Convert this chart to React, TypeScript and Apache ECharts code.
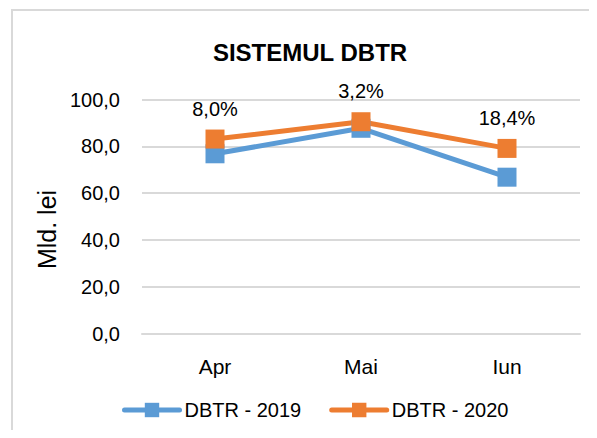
import React, { useEffect, useRef } from "react";
import * as echarts from "echarts";

const categories = ["Apr", "Mai", "Iun"];
const dbtr2019 = [76.8, 87.7, 66.8];
const dbtr2020 = [83.1, 90.5, 79.1];
const growthLabels = ["8,0%", "3,2%", "18,4%"];
const yTicks = { min: 0, max: 100, interval: 20 };

const FONT = "'Liberation Sans', Arial, sans-serif";

export default function App() {
  const ref = useRef<HTMLDivElement>(null);
  useEffect(() => {
    const chart = echarts.init(ref.current!, null, { renderer: "svg" });
    chart.setOption({
      animation: false,
      backgroundColor: "#ffffff",
      textStyle: { fontFamily: FONT },
      graphic: [
        {
          type: "rect",
          shape: { x: 12, y: 10, width: 700, height: 600 },
          style: { fill: "none", stroke: "#d9d9d9", lineWidth: 2 },
          silent: true,
        },
      ],
      title: {
        text: "SISTEMUL DBTR",
        left: 305,
        textAlign: "center",
        top: 35,
        textStyle: { fontSize: 24, fontWeight: "bold", color: "#000", fontFamily: FONT },
      },
      legend: {
        left: 117,
        top: 395,
        itemWidth: 55,
        itemHeight: 18,
        itemGap: 28,
        lineStyle: { width: 5, cap: "round" },
        textStyle: { fontSize: 20, color: "#000", fontFamily: FONT },
        data: ["DBTR - 2019", "DBTR - 2020"],
      },
      grid: { left: 142, right: 17, top: 99.5, bottom: 104.5, containLabel: false },
      xAxis: {
        type: "category",
        data: categories,
        boundaryGap: true,
        axisLine: { show: true, lineStyle: { color: "#d9d9d9", width: 2 } },
        axisTick: { show: false },
        axisLabel: { fontSize: 21, color: "#000", margin: 22, fontFamily: FONT },
      },
      yAxis: {
        type: "value",
        min: yTicks.min,
        max: yTicks.max,
        interval: yTicks.interval,
        name: "Mld. lei",
        nameLocation: "middle",
        nameGap: 82,
        nameRotate: 90,
        nameTextStyle: { fontSize: 25, color: "#000", fontFamily: FONT, padding: [0, 26, 0, 0] },
        axisLine: { show: false },
        axisTick: { show: false },
        splitLine: { lineStyle: { color: "#d9d9d9", width: 2 } },
        axisLabel: {
          fontSize: 20,
          color: "#000",
          margin: 22,
          fontFamily: FONT,
          formatter: (v: number) => v.toFixed(1).replace(".", ","),
        },
      },
      series: [
        {
          name: "DBTR - 2019",
          type: "line",
          data: dbtr2019,
          symbol: "rect",
          symbolSize: 19,
          color: "#5B9BD5",
          lineStyle: { width: 5, color: "#5B9BD5" },
          itemStyle: { color: "#5B9BD5" },
        },
        {
          name: "DBTR - 2020",
          type: "line",
          data: dbtr2020,
          symbol: "rect",
          symbolSize: 19,
          color: "#ED7D31",
          lineStyle: { width: 5, color: "#ED7D31" },
          itemStyle: { color: "#ED7D31" },
          label: {
            show: true,
            position: "top",
            distance: 11,
            fontSize: 20,
            color: "#000",
            fontFamily: FONT,
            formatter: (p: any) => growthLabels[p.dataIndex],
          },
        },
      ],
    });
    return () => chart.dispose();
  }, []);
  return <div ref={ref} style={{ width: 597, height: 438, margin: -8 }} />;
}
